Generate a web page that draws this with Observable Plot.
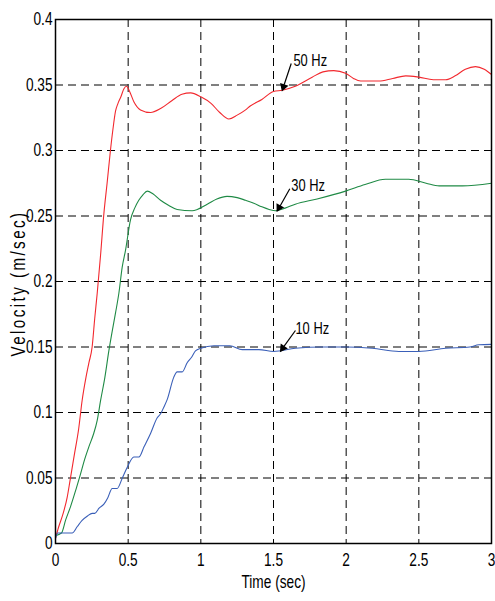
<!DOCTYPE html>
<html>
<head>
<meta charset="utf-8">
<script src="https://cdn.jsdelivr.net/npm/d3@7"></script>
<script src="https://cdn.jsdelivr.net/npm/@observablehq/plot@0.6"></script>
<style>
  html, body { margin: 0; padding: 0; background: #fff; }
  svg { display: block; }
</style>
</head>
<body>
<div id="chart"></div>
<script>
// ---- Data ----
const t50 = [0,0.02,0.05,0.08,0.1,0.13,0.16,0.183,0.21,0.23,0.252,0.27,0.287,0.31,0.333,0.355,0.378,0.395,0.413,0.43,0.45,0.47,0.489,0.51,0.54,0.585,0.654,0.723,0.8,0.87,0.93,1.0,1.07,1.13,1.193,1.25,1.308,1.34,1.42,1.5,1.56,1.65,1.766,1.84,1.915,1.996,2.05,2.1,2.225,2.32,2.41,2.5,2.6,2.684,2.75,2.82,2.89,2.95,3];
const v50 = [0.004,0.012,0.022,0.035,0.048,0.068,0.088,0.109,0.127,0.138,0.15,0.172,0.191,0.22,0.252,0.275,0.30,0.316,0.33,0.336,0.341,0.347,0.349,0.345,0.337,0.331,0.329,0.332,0.338,0.343,0.344,0.341,0.336,0.329,0.324,0.327,0.331,0.334,0.339,0.345,0.346,0.349,0.356,0.36,0.361,0.359,0.355,0.353,0.353,0.355,0.357,0.356,0.354,0.354,0.357,0.362,0.364,0.362,0.358];

const t30 = [0,0.041,0.07,0.103,0.14,0.172,0.2,0.23,0.26,0.287,0.31,0.34,0.367,0.39,0.413,0.436,0.459,0.482,0.516,0.545,0.573,0.6,0.631,0.67,0.723,0.78,0.837,0.94,1.044,1.11,1.18,1.25,1.308,1.36,1.42,1.47,1.514,1.58,1.65,1.8,1.996,2.13,2.27,2.43,2.55,2.64,2.8,3];
const v30 = [0.006,0.008,0.018,0.028,0.041,0.053,0.064,0.074,0.083,0.094,0.109,0.127,0.147,0.162,0.176,0.191,0.211,0.224,0.247,0.256,0.262,0.266,0.269,0.267,0.262,0.258,0.255,0.254,0.259,0.263,0.265,0.264,0.262,0.26,0.257,0.255,0.254,0.256,0.259,0.263,0.269,0.274,0.278,0.278,0.275,0.273,0.273,0.275];

const t10 = [0,0.015,0.115,0.15,0.183,0.22,0.252,0.27,0.3,0.333,0.36,0.39,0.424,0.46,0.493,0.539,0.574,0.61,0.654,0.7,0.723,0.745,0.769,0.814,0.837,0.872,0.906,0.935,0.963,1.0,1.09,1.2,1.285,1.4,1.5,1.65,1.835,2.0,2.18,2.363,2.5,2.684,2.85,2.913,3];
const v10 = [0.004,0.008,0.008,0.013,0.0176,0.021,0.023,0.023,0.027,0.030,0.035,0.042,0.042,0.050,0.058,0.066,0.066,0.074,0.084,0.096,0.099,0.104,0.110,0.127,0.131,0.131,0.138,0.142,0.147,0.149,0.151,0.151,0.148,0.148,0.1466,0.149,0.150,0.150,0.149,0.1466,0.1466,0.149,0.150,0.1517,0.152];

const seriesNames = ["50 Hz", "30 Hz", "10 Hz"];
const seriesColors = ["#f2282e", "#1f8a45", "#3a5fb8"];

// annotation labels and arrows
const annLabels = ["50 Hz", "30 Hz", "10 Hz"];
const annTextT = [1.637, 1.622, 1.651];
const annTextV = [0.3687, 0.2733, 0.1641];
const annFromT = [1.622, 1.612, 1.651];
const annFromV = [0.3664, 0.2708, 0.1626];
const annToT = [1.56, 1.525, 1.548];
const annToV = [0.3458, 0.2537, 0.1467];

const xTicks = [0, 0.5, 1, 1.5, 2, 2.5, 3];
const yTicks = [0, 0.05, 0.1, 0.15, 0.2, 0.25, 0.3, 0.35, 0.4];
const xTickLabels = ["0", "0.5", "1", "1.5", "2", "2.5", "3"];
const yTickLabels = ["0", "0.05", "0.1", "0.15", "0.2", "0.25", "0.3", "0.35", "0.4"];

// ---- Build ----
const W = 495, H = 601;
const mL = 55, mR = 4, mT = 19, mB = 58;
const xDomain = [0, 3], yDomain = [0, 0.4];
const pxPerX = (W - mL - mR) / (xDomain[1] - xDomain[0]);
const pxPerY = (H - mT - mB) / (yDomain[1] - yDomain[0]);

const lineData = [];
[[t50, v50], [t30, v30], [t10, v10]].forEach(([ts, vs], k) => {
  ts.forEach((t, i) => lineData.push({t, v: vs[i], s: seriesNames[k]}));
});

const ann = annLabels.map((label, i) => {
  const dxp = (annToT[i] - annFromT[i]) * pxPerX;
  const dyp = -(annToV[i] - annFromV[i]) * pxPerY;
  const len = Math.hypot(dxp, dyp);
  const ux = dxp / len, uy = dyp / len;
  const back = 4;
  const angle = Math.atan2(ux, -uy) * 180 / Math.PI;
  return {
    label, tx: annTextT[i], ty: annTextV[i],
    x1: annFromT[i], y1: annFromV[i],
    x2: annToT[i] - ux * 6 / pxPerX, y2: annToV[i] + uy * 6 / pxPerY,
    hx: annToT[i] - ux * back / pxPerX, hy: annToV[i] + uy * back / pxPerY,
    angle
  };
});

const FONT = "'Liberation Sans', Arial, sans-serif";

const plot = Plot.plot({
  width: W, height: H,
  marginLeft: mL, marginRight: mR, marginTop: mT, marginBottom: mB,
  style: {fontFamily: FONT, fontSize: "18px", color: "#000", background: "#fff", overflow: "visible"},
  x: {domain: xDomain, ticks: xTicks},
  y: {domain: yDomain, ticks: yTicks},
  color: {domain: seriesNames, range: seriesColors},
  marks: [
    Plot.gridX(xTicks, {stroke: "#000", strokeOpacity: 1, strokeWidth: 1, strokeDasharray: "8,5"}),
    Plot.gridY(yTicks, {stroke: "#000", strokeOpacity: 1, strokeWidth: 1, strokeDasharray: "8,5"}),
    Plot.line(lineData, {x: "t", y: "v", z: "s", stroke: "s", strokeWidth: 1.1, curve: "monotone-x"}),
    Plot.link(ann, {x1: "x1", y1: "y1", x2: "x2", y2: "y2", stroke: "#000", strokeWidth: 1.2}),
    Plot.dot(ann, {x: "hx", y: "hy", symbol: "triangle2", r: 4.2, fill: "#000", stroke: "none", rotate: "angle"}),
    Plot.text(ann, {x: "tx", y: "ty", text: "label", textAnchor: "start", fontSize: 17, fill: "#000"}),
    Plot.frame({stroke: "#000", strokeWidth: 1.5}),
    Plot.axisX(xTicks, {tickSize: 0, tickPadding: 10, tickFormat: (d, i) => xTickLabels[i], label: null, fontSize: 18}),
    Plot.axisY(yTicks, {tickSize: 0, tickPadding: 3, tickFormat: (d, i) => yTickLabels[i], label: null, fontSize: 18}),
    Plot.text(["Time (sec)"], {frameAnchor: "bottom", dy: 44, text: d => d, fontSize: 18, fill: "#000"}),
    Plot.text(["Velocity (m/sec)"], {frameAnchor: "left", textAnchor: "middle", dx: -37, dy: 2, rotate: -90, text: d => d, fontSize: 20, fill: "#000", className: "ylab"})
  ]
});

// narrow (condensed) look: squeeze every text horizontally about its anchor
const SQ = 0.76;
d3.select(plot).selectAll("text").each(function() {
  const el = d3.select(this);
  let tr = el.attr("transform");
  if (!tr) {
    const x = +(el.attr("x") || 0), y = +(el.attr("y") || 0);
    el.attr("x", null).attr("y", null);
    tr = `translate(${x},${y})`;
  }
  el.attr("transform", tr + ` scale(${SQ},1)`);
});
d3.select(plot).selectAll(".ylab text").style("letter-spacing", "3.2px");
document.getElementById("chart").appendChild(plot);
</script>
</body>
</html>
